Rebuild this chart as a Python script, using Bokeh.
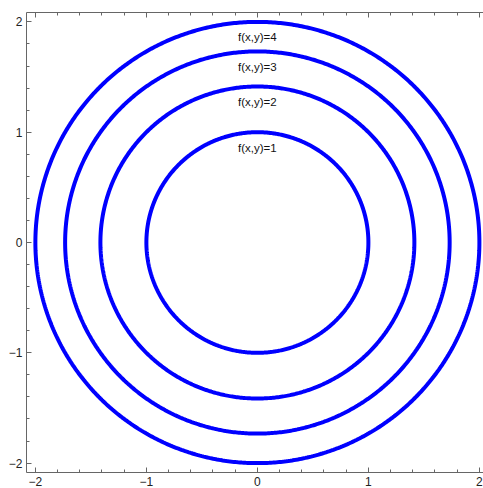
import numpy as np
from bokeh.plotting import figure
from bokeh.models import LinearAxis, FixedTicker, ColumnDataSource
from bokeh.core.properties import value
from bokeh.embed import file_html
from bokeh.resources import INLINE

# contour levels of f(x,y) = x^2 + y^2
levels = [1, 2, 3, 4]
level_labels = ["f(x,y)=1", "f(x,y)=2", "f(x,y)=3", "f(x,y)=4"]
major_ticks = [-2, -1, 0, 1, 2]
tick_labels = ["\u22122", "\u22121", "0", "1", "2"]
minor_ticks = [round(-2.0 + 0.2 * i, 1) for i in range(21)]

# level curves: x^2 + y^2 = c  ->  circles of radius sqrt(c)
theta = np.linspace(0, 2 * np.pi, 721)
xs = [list(np.sqrt(c) * np.cos(theta)) for c in levels]
ys = [list(np.sqrt(c) * np.sin(theta)) for c in levels]

# labels sit just inside the top of each curve
label_src = ColumnDataSource(dict(
    x=[0.0] * len(levels),
    y=[np.sqrt(c) - 0.14 for c in levels],
    text=level_labels,
))

p = figure(width=483, height=488, output_backend="svg", toolbar_location=None,
           x_range=(-2.08, 2.037), y_range=(-2.085, 2.085),
           x_axis_location=None, y_axis_location=None,
           min_border_left=26, min_border_top=12, min_border_right=0,
           min_border_bottom=14)
p.outline_line_color = None
p.xgrid.visible = False
p.ygrid.visible = False
p.background_fill_color = "white"
p.border_fill_color = "white"

p.multi_line(xs, ys, line_color="#0000FF", line_width=4)
p.text(x="x", y="y", text="text", source=label_src,
       text_font=value("Liberation Sans"), text_font_size="11.5px",
       text_align="center", text_baseline="middle", text_color="#111111")

overrides = {t: s for t, s in zip(major_ticks, tick_labels)}
frame_col = "#666666"


def make_axis(show_labels):
    ax = LinearAxis(ticker=FixedTicker(ticks=major_ticks, minor_ticks=minor_ticks))
    ax.axis_line_color = frame_col
    ax.axis_line_width = 1
    ax.major_tick_line_color = frame_col
    ax.minor_tick_line_color = frame_col
    ax.major_tick_in = 5
    ax.major_tick_out = 0
    ax.minor_tick_in = 3
    ax.minor_tick_out = 0
    if show_labels:
        ax.major_label_overrides = overrides
        ax.major_label_text_font = "Liberation Sans"
        ax.major_label_text_font_size = "12px"
        ax.major_label_text_color = "#222222"
        ax.major_label_standoff = 4
    else:
        ax.major_label_text_color = None
        ax.major_label_text_font_size = "1px"
        ax.major_label_standoff = 0
    return ax


p.add_layout(make_axis(True), "left")
p.add_layout(make_axis(True), "below")
# top frame edge: ticks only
p.add_layout(make_axis(False), "above")

open("out.html", "w").write(file_html(p, INLINE))
